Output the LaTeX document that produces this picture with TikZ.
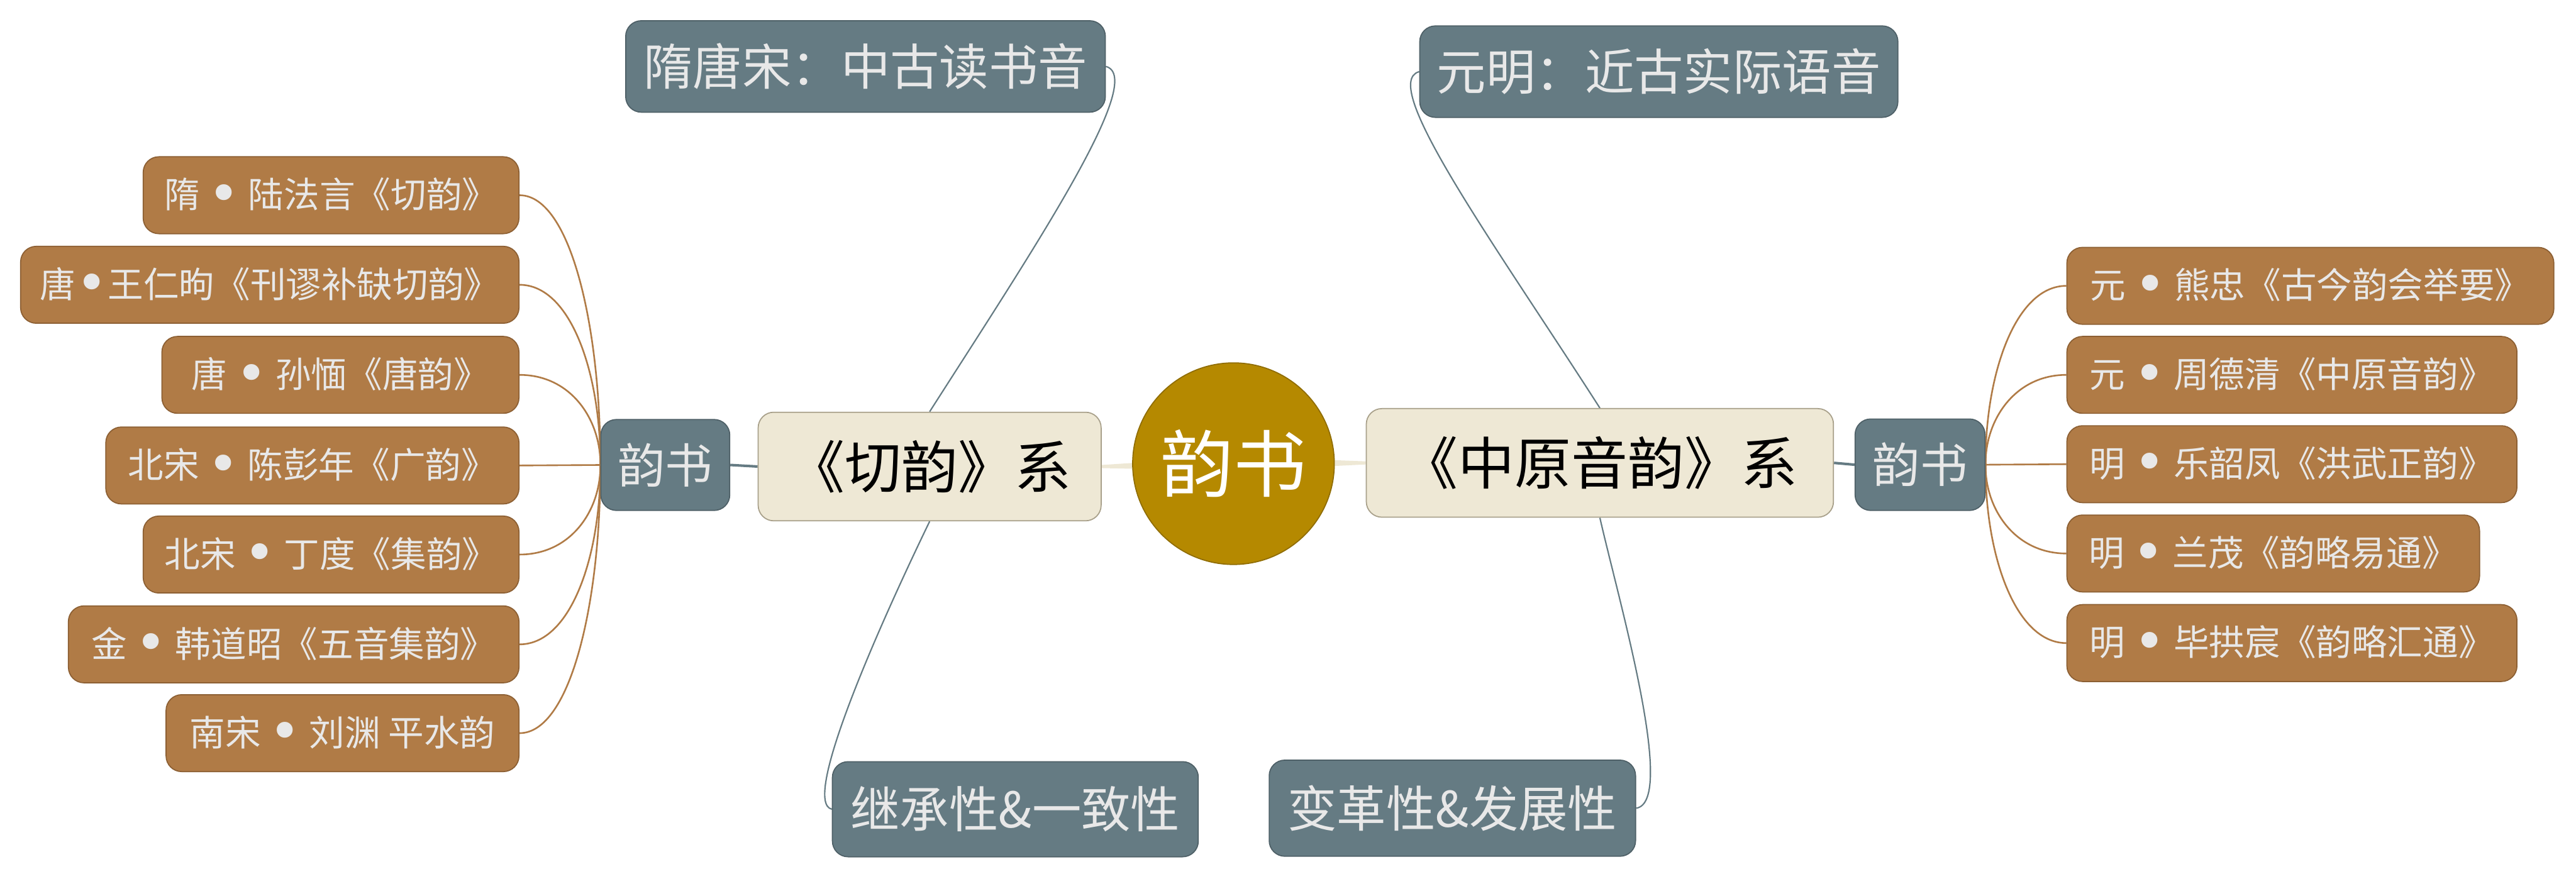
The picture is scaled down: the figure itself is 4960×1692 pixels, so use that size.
\documentclass[tikz,border=0pt]{standalone}
\usepackage{fontspec}
\setmainfont{Noto Sans CJK SC}
\newfontfamily\bulletfont{DejaVu Sans}
\newcommand{\bulletmark}{\raisebox{-2.6pt}{\bulletfont\fontsize{30}{30}\selectfont •}}
\usetikzlibrary{calc,backgrounds}
\definecolor{leafbrown}{HTML}{B07B46}
\definecolor{leafborder}{HTML}{8C5F33}
\definecolor{slate}{HTML}{657B83}
\definecolor{slateborder}{HTML}{4E6067}
\definecolor{beige}{HTML}{EEE8D5}
\definecolor{beigeborder}{HTML}{A8A08A}
\definecolor{gold}{HTML}{B58900}
\definecolor{goldborder}{HTML}{8F6C00}
\definecolor{lighttext}{HTML}{E8E8E8}
\begin{document}
\begin{tikzpicture}[x=0.01cm,y=-0.01cm,
  leafbox/.style={draw=leafborder, fill=leafbrown, line width=0.6pt, rounded corners=0.3cm,
    minimum height=1.48cm, inner sep=0pt, text=lighttext, font=\fontsize{19.5}{22}\selectfont},
  slatebox/.style={draw=slateborder, fill=slate, line width=0.6pt, rounded corners=0.3cm,
    inner sep=0pt, text=lighttext, font=\fontsize{27}{30}\selectfont},
  beigebox/.style={draw=beigeborder, fill=beige, line width=0.6pt, rounded corners=0.3cm,
    minimum height=2.09cm, inner sep=0pt, text=black, font=\fontsize{31}{34}\selectfont},
  leafline/.style={draw=leafbrown, line width=0.9pt},
  slateline/.style={draw=slate, line width=0.75pt},
  hubline/.style={draw=slate, line width=1.4pt},
  wedge/.style={fill=beige, draw=none}
]
\useasboundingbox (0,0) rectangle (4960,1692);

% central topic
\node[circle, fill=gold, draw=goldborder, line width=0.6pt, minimum size=3.88cm, inner sep=0pt,
  text=white, font=\fontsize{40}{44}\selectfont] (root) at (2375,893) {韵书};

% main branches
\node[beigebox, minimum width=6.6cm] (C1) at (1790,898.5) {《切韵》系};
\node[beigebox, minimum width=8.99cm] (C2) at (3080.5,891.5) {《中原音韵》系};

% hubs
\node[slatebox, minimum width=2.48cm, minimum height=1.75cm, font=\fontsize{26}{29}\selectfont] (LH) at (1281,895.5) {韵书};
\node[slatebox, minimum width=2.5cm, minimum height=1.76cm, font=\fontsize{26}{29}\selectfont] (RH) at (3697,895) {韵书};

% top / bottom
\node[slatebox, minimum width=9.23cm, minimum height=1.76cm] (T1) at (1666.5,128) {隋唐宋：中古读书音};
\node[slatebox, minimum width=9.2cm, minimum height=1.76cm] (T2) at (3194,138) {元明：近古实际语音};
\node[slatebox, minimum width=7.04cm, minimum height=1.83cm] (B1) at (1955,1558.5) {继承性\&一致性};
\node[slatebox, minimum width=7.05cm, minimum height=1.85cm] (B2) at (2796.5,1556.5) {变革性\&发展性};

% left leaves
\node[leafbox, minimum width=7.23cm] (L1) at (637.5,376) {隋 \bulletmark{} 陆法言《切韵》};
\node[leafbox, minimum width=9.59cm] (L2) at (519.5,548.5) {唐\bulletmark 王仁昫《刊谬补缺切韵》};
\node[leafbox, minimum width=6.87cm] (L3) at (655.5,722) {唐 \bulletmark{} 孙愐《唐韵》};
\node[leafbox, minimum width=7.95cm] (L4) at (601.5,896.5) {北宋 \bulletmark{} 陈彭年《广韵》};
\node[leafbox, minimum width=7.23cm] (L5) at (637.5,1068) {北宋 \bulletmark{} 丁度《集韵》};
\node[leafbox, minimum width=8.67cm] (L6) at (565.5,1241) {金 \bulletmark{} 韩道昭《五音集韵》};
\node[leafbox, minimum width=6.79cm] (L7) at (659.5,1412) {南宋 \bulletmark{} 刘渊 平水韵};

% right leaves
\node[leafbox, minimum width=9.37cm] (R1) at (4448.5,550.5) {元 \bulletmark{} 熊忠《古今韵会举要》};
\node[leafbox, minimum width=8.66cm] (R2) at (4413,722) {元 \bulletmark{} 周德清《中原音韵》};
\node[leafbox, minimum width=8.66cm] (R3) at (4413,894) {明 \bulletmark{} 乐韶凤《洪武正韵》};
\node[leafbox, minimum width=7.94cm] (R4) at (4377,1066) {明 \bulletmark{} 兰茂《韵略易通》};
\node[leafbox, minimum width=8.66cm] (R5) at (4413,1238.5) {明 \bulletmark{} 毕拱宸《韵略汇通》};

\begin{scope}[on background layer]
  % tapered branches from the central topic
  \path[wedge] ($(C1.east)+(0,-3)$) -- ($(root.center)+(0,-14)$) -- ($(root.center)+(0,14)$) -- ($(C1.east)+(0,3)$) -- cycle;
  \path[wedge] ($(C2.west)+(0,-3)$) -- ($(root.center)+(0,-14)$) -- ($(root.center)+(0,14)$) -- ($(C2.west)+(0,3)$) -- cycle;

  % branch to hubs
  \draw[hubline] (C1.west) -- (LH.east);
  \draw[hubline] (C2.east) -- (RH.west);

  % top / bottom curves
  \draw[slateline] (C1.north) .. controls (1990,480) and (2210,150) .. (T1.east);
  \draw[slateline] (C1.south) .. controls (1700,1190) and (1540,1545) .. (B1.west);
  \draw[slateline] (C2.north) .. controls (2880,473) and (2652,160) .. (T2.west);
  \draw[slateline] (C2.south) .. controls (3115,1150) and (3230,1545) .. (B2.east);

  % left leaves
  \draw[leafline] (L1.east) .. controls (1100,376) and (1157,636) .. (LH.west);
  \draw[leafline] (L2.east) .. controls (1100,548.5) and (1157,722) .. (LH.west);
  \draw[leafline] (L3.east) .. controls (1100,722) and (1157,809) .. (LH.west);
  \draw[leafline] (L4.east) -- (LH.west);
  \draw[leafline] (L5.east) .. controls (1100,1068) and (1157,982) .. (LH.west);
  \draw[leafline] (L6.east) .. controls (1100,1241) and (1157,1068.5) .. (LH.west);
  \draw[leafline] (L7.east) .. controls (1100,1412) and (1157,1154) .. (LH.west);

  % right leaves
  \draw[leafline] (RH.east) .. controls (3822,723) and (3880,550.5) .. (R1.west);
  \draw[leafline] (RH.east) .. controls (3822,808.5) and (3880,722) .. (R2.west);
  \draw[leafline] (RH.east) -- (R3.west);
  \draw[leafline] (RH.east) .. controls (3822,980.5) and (3880,1066) .. (R4.west);
  \draw[leafline] (RH.east) .. controls (3822,1067) and (3880,1238.5) .. (R5.west);
\end{scope}
\end{tikzpicture}
\end{document}
